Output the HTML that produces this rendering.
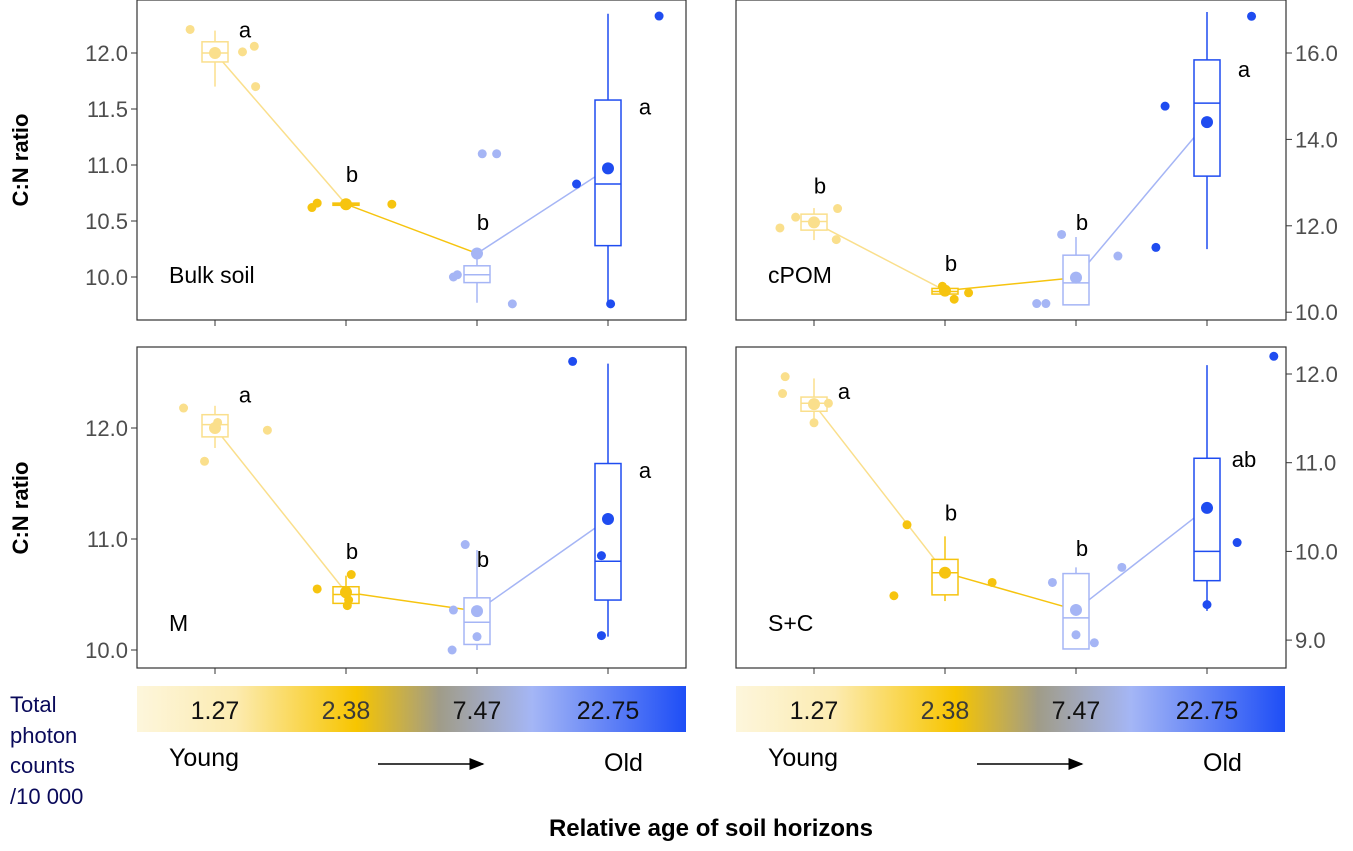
<!DOCTYPE html>
<html><head><meta charset="utf-8">
<style>
body{margin:0;background:#fff;width:1353px;height:846px;overflow:hidden;font-family:"Liberation Sans",Arial,sans-serif}
svg text{font-family:"Liberation Sans",Arial,sans-serif}
</style></head>
<body>
<svg id="chart" width="1353" height="846" viewBox="0 0 1353 846" xmlns="http://www.w3.org/2000/svg">
<defs>
<linearGradient id="grad" x1="0" x2="1" y1="0" y2="0">
<stop offset="0" stop-color="#fdf6dc"/>
<stop offset="0.18" stop-color="#fcebb0"/>
<stop offset="0.40" stop-color="#f7c500"/>
<stop offset="0.55" stop-color="#a09c88"/>
<stop offset="0.72" stop-color="#a4b6f6"/>
<stop offset="1" stop-color="#1e4ef6"/>
</linearGradient>
<marker id="arr" markerWidth="10" markerHeight="10" refX="9" refY="5" orient="auto"><path d="M0,1 L10,5 L0,9 z" fill="#000"/></marker>
</defs>
<text transform="translate(28,160) rotate(-90)" text-anchor="middle" font-size="22" font-weight="bold">C:N ratio</text>
<text transform="translate(28,508) rotate(-90)" text-anchor="middle" font-size="22" font-weight="bold">C:N ratio</text>
<text x="711" y="836" text-anchor="middle" font-size="24" font-weight="bold">Relative age of soil horizons</text>
<g fill="#0a0a5a" font-size="22">
<text x="10" y="712">Total</text><text x="10" y="743">photon</text><text x="10" y="773">counts</text><text x="10" y="804">/10 000</text>
</g>
</svg>
<script>
const categories = ["1.27","2.38","7.47","22.75"];
const colors = ["#fadf8c","#f6c40f","#a5b5f5","#1f4cf0"];
const lineColors = ["#fadf8c","#f6c40f","#a5b5f5"];
const bulkBox = [[11.70,11.92,12.00,12.10,12.20],[10.64,10.64,10.65,10.66,10.66],[9.77,9.95,10.02,10.10,10.22],[9.76,10.28,10.83,11.58,12.35]];
const bulkMean = [12.00,10.65,10.21,10.97];
const bulkPts = [[12.21,12.01,12.06,11.70],[10.62,10.66,10.65],[10.00,10.02,11.10,11.10,9.76],[10.83,9.76,12.33]];
const bulkJit = [[-0.19,0.21,0.30,0.31],[-0.26,-0.22,0.35],[-0.18,-0.15,0.04,0.15,0.27],[-0.24,0.02,0.39]];
const bulkLetters = ["a","b","b","a"];
const bulkLetterVals = [12.14,10.85,10.42,11.45];

const cpomBox = [[11.67,11.90,12.10,12.27,12.41],[10.40,10.42,10.48,10.55,10.58],[10.17,10.17,10.68,11.32,11.74],[11.46,13.15,14.84,15.84,16.95]];
const cpomMean = [12.08,10.50,10.80,14.40];
const cpomPts = [[11.95,12.20,12.40,11.68],[10.60,10.30,10.45],[10.20,10.20,11.80,11.30],[14.77,11.50,16.85]];
const cpomJit = [[-0.26,-0.14,0.18,0.17],[-0.02,0.07,0.18],[-0.30,-0.23,-0.11,0.32],[-0.32,-0.39,0.34]];
const cpomLetters = ["b","b","b","a"];
const cpomVals = [12.75,10.95,11.90,15.45];

const mBox = [[11.82,11.92,12.03,12.12,12.20],[10.37,10.42,10.50,10.57,10.67],[10.00,10.05,10.25,10.47,10.90],[10.12,10.45,10.80,11.68,12.58]];
const mMean = [12.00,10.52,10.35,11.18];
const mPts = [[12.18,11.70,12.05,11.98],[10.55,10.45,10.68,10.40],[10.00,10.36,10.95,10.12],[12.60,10.85,10.13]];
const mJit = [[-0.24,-0.08,0.02,0.40],[-0.22,0.02,0.04,0.01],[-0.19,-0.18,-0.09,0.00],[-0.27,-0.05,-0.05]];
const mLetters = ["a","b","b","a"];
const mVals = [12.23,10.82,10.75,11.55];

const scBox = [[11.45,11.58,11.67,11.74,11.95],[9.44,9.51,9.76,9.91,10.17],[8.90,8.90,9.25,9.75,9.82],[9.33,9.67,10.00,11.05,12.10]];
const scMean = [11.66,9.76,9.34,10.49];
const scPts = [[11.97,11.78,11.45,11.67],[9.50,10.30,9.65],[9.65,9.06,8.97,9.82],[9.40,10.10,12.20]];
const scJit = [[-0.22,-0.24,0.00,0.11],[-0.39,-0.29,0.36],[-0.18,0.00,0.14,0.35],[0.00,0.23,0.51]];
const scLetters = ["a","b","b","ab"];
const scVals = [11.72,10.35,9.95,10.95];

const NS="http://www.w3.org/2000/svg";
const svg=document.getElementById('chart');
function mk(tag,attrs,parent){const e=document.createElementNS(NS,tag);for(const k in attrs)e.setAttribute(k,attrs[k]);(parent||svg).appendChild(e);return e;}

function panel(name,x0,y0,w,h,vRef,yRef,pxPer,ticks,tickFmt,rightAxis,box,mean,pts,jit,letters,letterVals,label){
  const g=mk('g',{});
  
  
  const ys=v=>yRef+(vRef-v)*pxPer;
  const xs=i=>x0+78+i*131;
  const fr=mk('rect',{x:x0,y:y0,width:w,height:h,fill:'#fff',stroke:'#333','stroke-width':1.2},g);
  
  
  ticks.forEach(t=>{
    const y=ys(t);
    if(rightAxis){
      mk('line',{x1:x0+w,x2:x0+w+6,y1:y,y2:y,stroke:'#333'},g);
      const tx=mk('text',{x:x0+w+9,y:y+8,'font-size':22,fill:'#4d4d4d'},g);
      tx.textContent=t.toFixed(1);
      
      
    } else {
      mk('line',{x1:x0-6,x2:x0,y1:y,y2:y,stroke:'#333'},g);
      const tx=mk('text',{x:x0-9,y:y+8,'font-size':22,fill:'#4d4d4d','text-anchor':'end'},g);
      tx.textContent=t.toFixed(1);
      
      
    }
  });
  categories.forEach((c,i)=>mk('line',{x1:xs(i),x2:xs(i),y1:y0+h,y2:y0+h+6,stroke:'#333'},g));
  for(let i=0;i<3;i++){
    const l=mk('line',{x1:xs(i),y1:ys(mean[i]),x2:xs(i+1),y2:ys(mean[i+1]),stroke:lineColors[i],'stroke-width':1.5},g);
    
    
  }
  box.forEach((b,i)=>{
    const x=xs(i),c=colors[i];
    mk('line',{x1:x,x2:x,y1:ys(b[0]),y2:ys(b[4]),stroke:c,'stroke-width':1.5},g);
    const r=mk('rect',{x:x-13,y:ys(b[3]),width:26,height:Math.max(1,ys(b[1])-ys(b[3])),fill:'#fff',stroke:c,'stroke-width':1.5},g);
    
    
    mk('line',{x1:x-13,x2:x+13,y1:ys(b[2]),y2:ys(b[2]),stroke:c,'stroke-width':1.5},g);
  });
  pts.forEach((arr,i)=>arr.forEach((v,j)=>{
    const p=mk('circle',{cx:xs(i)+jit[i][j]*131,cy:ys(v),r:4.5,fill:colors[i]},g);
    
    
  }));
  mean.forEach((v,i)=>{
    const p=mk('circle',{cx:xs(i),cy:ys(v),r:6,fill:colors[i]},g);
    
    
  });
  letters.forEach((L,i)=>{
    const t=mk('text',{x:xs(i)+(i===0&&name!=='cpom'?30:(i===3?37:6)),y:ys(letterVals[i]),'font-size':22,'text-anchor':'middle'},g);
    t.textContent=L;
    
    
  });
  const lb=mk('text',{x:x0+32,y:y0+h-37,'font-size':23},g);
  lb.textContent=label;
  
  
}
panel('bulk',137,0,549,320,12,53,112,[10,10.5,11,11.5,12],1,false,bulkBox,bulkMean,bulkPts,bulkJit,bulkLetters,bulkLetterVals,'Bulk soil');
panel('cpom',736,0,550,320,16,53,43.2,[10,12,14,16],1,true,cpomBox,cpomMean,cpomPts,cpomJit,cpomLetters,cpomVals,'cPOM');
panel('m',137,347,549,321,12,428,111,[10,11,12],1,false,mBox,mMean,mPts,mJit,mLetters,mVals,'M');
panel('sc',736,347,550,321,12,374,88.7,[9,10,11,12],1,true,scBox,scMean,scPts,scJit,scLetters,scVals,'S+C');

function colorbar(name,x0){
  const g=mk('g',{});
  
  
  mk('rect',{x:x0,y:686,width:549,height:46,fill:'url(#grad)'},g);
  categories.forEach((c,i)=>{
    const t=mk('text',{x:x0+78+i*131,y:719,'font-size':25,'text-anchor':'middle',fill:i===1?'#3a3a3a':'#111'},g);
    t.textContent=c;
    
    
  });
  const y=mk('text',{x:x0+32,y:766,'font-size':25},g);y.textContent='Young';
  
  
  const o=mk('text',{x:x0+467,y:771,'font-size':25},g);o.textContent='Old';
  
  
  const a=mk('line',{x1:x0+241,x2:x0+346,y1:764,y2:764,stroke:'#000','stroke-width':1.5,'marker-end':'url(#arr)'},g);
  
  
}
colorbar('colorbar-left',137);
colorbar('colorbar-right',736);
</script>
</body></html>
